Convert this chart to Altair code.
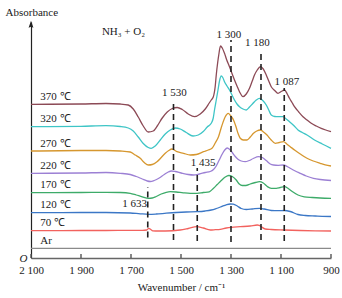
import altair as alt
import pandas as pd

FONT = "Liberation Serif"
TEXT = "#1a1a1a"

series_names = ["370 ℃", "320 ℃", "270 ℃", "220 ℃", "170 ℃", "120 ℃", "70 ℃", "Ar"]
series_colors = ["#8c4a56", "#3ec5c6", "#d6972f", "#9c80d4", "#3dab69", "#3b77c6", "#f2625e", "#8a8a8a"]

wn_370 = [2100, 1900, 1800, 1743, 1711, 1691, 1671, 1651, 1631, 1611, 1595, 1575, 1555, 1535, 1515, 1495,
          1471, 1446, 1423, 1403, 1387, 1379, 1371, 1363, 1359, 1353, 1349, 1342, 1335, 1326, 1317, 1306,
          1296, 1286, 1276, 1266, 1252, 1239, 1226, 1215, 1206, 1195, 1182, 1171, 1159, 1149, 1139, 1125,
          1112, 1099, 1086, 1075, 1066, 1056, 1046, 1029, 1012, 996, 979, 959, 939, 921, 900]
a_370 = [153.7, 154, 154.5, 154, 153, 149, 141, 132, 126, 127, 132, 140, 146, 149.5, 150.5, 148.5,
         144, 141.3, 144, 149, 155, 158, 161, 172, 183, 196, 203, 212, 210, 204.7, 198, 191.3,
         184.5, 178, 172, 166.3, 161.3, 164, 169.7, 177, 183, 188, 191.3, 189, 183, 177, 171.3, 167.5,
         164.7, 166.5, 168, 164, 159.7, 155.5, 151.3, 146, 141.3, 138, 134.7, 132, 129.7, 128, 126.3]

wn_320 = [2100, 1900, 1800, 1743, 1711, 1691, 1671, 1651, 1631, 1619, 1603, 1583, 1563, 1543, 1523, 1503,
          1479, 1452, 1431, 1411, 1395, 1379, 1371, 1366, 1359, 1352, 1346, 1339, 1333, 1326, 1316, 1306,
          1296, 1286, 1276, 1266, 1252, 1239, 1226, 1212, 1199, 1186, 1173, 1159, 1149, 1139, 1125, 1112,
          1092, 1079, 1066, 1049, 1032, 1015, 996, 966, 935, 900]
a_320 = [131.3, 131.7, 132.3, 131.5, 130, 127, 121, 114.5, 110.5, 109.7, 112, 118, 124, 128, 130, 129,
         125.5, 122, 123, 126.5, 131, 134.7, 140, 148, 158, 168, 177, 182, 180.5, 176.3, 172, 168,
         163, 158, 154, 151.3, 149, 148, 151, 154.7, 158, 159.7, 157.5, 153, 148, 143, 141.5, 141.3,
         141.3, 139, 136.3, 132.5, 128, 125.5, 123, 118, 114, 109.7]

wn_270 = [2100, 1900, 1800, 1743, 1703, 1683, 1663, 1647, 1630, 1615, 1596, 1579, 1563, 1549, 1536, 1516,
          1490, 1463, 1439, 1410, 1391, 1376, 1363, 1350, 1337, 1323, 1311, 1302, 1290, 1281, 1272, 1263,
          1251, 1236, 1223, 1210, 1197, 1183, 1170, 1156, 1141, 1123, 1107, 1090, 1077, 1063, 1043, 1023,
          996, 971, 943, 923, 900]
a_270 = [107, 107.5, 107.5, 107, 106, 103, 99.7, 95.5, 93, 93.5, 96.3, 100.5, 104.7, 107.5, 109, 106.3,
         104.7, 103, 103.5, 106.3, 108, 109.7, 115, 121.3, 132, 141.3, 144.7, 142.5, 138, 132, 124.7, 119.7,
         118, 118, 121, 124.7, 127, 128, 126, 123, 118.5, 114.7, 115.5, 116.3, 114, 111.3, 107.5, 104,
         99.7, 97, 94.7, 93.2, 92]

wn_220 = [2100, 1900, 1800, 1743, 1703, 1679, 1655, 1635, 1623, 1607, 1587, 1567, 1551, 1539, 1523, 1499,
          1471, 1450, 1427, 1403, 1383, 1370, 1359, 1347, 1335, 1325, 1315, 1305, 1295, 1283, 1271, 1259,
          1243, 1227, 1211, 1190, 1175, 1159, 1143, 1130, 1111, 1090, 1075, 1063, 1043, 1023, 999, 970,
          943, 900]
a_220 = [84.7, 85, 85.5, 84.7, 83.5, 81.5, 79, 77, 76.5, 77.5, 80, 83.5, 86, 87, 86.5, 85,
         83.5, 83, 84, 85.5, 86.5, 88.5, 92, 98, 104, 108, 110, 108.5, 105.5, 101.5, 98.5, 97,
         96.3, 97.5, 99.5, 101.3, 100.5, 97.5, 94, 93, 92.7, 93, 91.5, 89.7, 87, 84.7, 82, 79.7,
         78.5, 77.5]

wn_170 = [2100, 1900, 1800, 1743, 1703, 1679, 1655, 1630, 1615, 1599, 1579, 1559, 1543, 1519, 1491, 1463,
          1436, 1411, 1387, 1370, 1355, 1339, 1323, 1309, 1295, 1279, 1267, 1255, 1241, 1223, 1203, 1186,
          1171, 1155, 1139, 1119, 1103, 1086, 1071, 1055, 1032, 1007, 975, 943, 900]
a_170 = [65.3, 65.5, 65.7, 65.5, 64.7, 63, 61.2, 59.7, 60, 61.5, 64, 65.7, 66.3, 66, 65.2, 64.7,
         64.7, 65.5, 66.2, 69.7, 73.5, 77.5, 81, 82.5, 81.5, 78, 74, 72.5, 72.5, 74, 75.5, 76.3,
         75, 71.5, 69.7, 69.7, 70.5, 71.3, 69.5, 66.5, 63, 61.2, 60.5, 60, 59.7]

wn_120 = [2100, 1900, 1800, 1703, 1663, 1629, 1599, 1559, 1519, 1479, 1436, 1403, 1379, 1359, 1339, 1319,
          1303, 1291, 1275, 1259, 1239, 1215, 1186, 1167, 1139, 1111, 1086, 1063, 1032, 1003, 963, 935, 900]
a_120 = [45.3, 45.5, 45.5, 45, 44.2, 43.7, 44, 44.8, 45.5, 46, 46.3, 47, 48, 49.5, 51.3, 53.2,
         54, 53.8, 52, 49.5, 48.5, 49, 49.7, 49, 47.5, 47.3, 47.5, 46.5, 43.5, 42.5, 42, 41.7, 41.5]

wn_70 = [2100, 1900, 1800, 1703, 1655, 1637, 1629, 1621, 1613, 1591, 1563, 1503, 1471, 1437, 1411, 1383,
         1363, 1343, 1319, 1299, 1263, 1223, 1195, 1187, 1179, 1163, 1139, 1089, 1023, 963, 900]
a_70 = [27.3, 27.5, 27.5, 27.7, 27.7, 28, 29.7, 28.5, 27.2, 27, 27, 28, 29.5, 31.3, 30, 28,
        28.3, 28.7, 30, 30.7, 31.3, 32, 33, 32.7, 31.3, 29, 28.5, 28, 27.5, 27.2, 27]

wn_ar = [2100, 1500, 900]
a_ar = [9.7, 9.7, 9.7]

all_wn = [wn_370, wn_320, wn_270, wn_220, wn_170, wn_120, wn_70, wn_ar]
all_a = [a_370, a_320, a_270, a_220, a_170, a_120, a_70, a_ar]

# peak markers
peak_wn = [1633, 1530, 1435, 1300, 1180, 1087]
peak_text = ["1 633", "1 530", "1 435", "1 300", "1 180", "1 087"]
peak_top = [71, 158, 90, 218, 208, 170]
peak_bottom = [20.5, 18, 17, 16, 18, 17]
peak_label_wn = [1686, 1527, 1412, 1309, 1195, 1077]
peak_label_a = [53.7, 164.7, 95.3, 223, 214.7, 176.3]

tick_values = [2100, 1900, 1700, 1500, 1300, 1100, 900]

gas_text = "NH₃ + O₂"
gas_wn = [1730]
gas_a = [226.3]

LABEL_WN = 2063
LABEL_GAP = 7.5

lines_df = pd.concat(
    [pd.DataFrame({"wn": w, "a": a, "series": n}) for n, w, a in zip(series_names, all_wn, all_a)],
    ignore_index=True,
)
labels_df = pd.DataFrame({
    "wn": [LABEL_WN] * len(series_names),
    "a": [a[0] + LABEL_GAP for a in all_a],
    "txt": series_names,
})
peaks_df = pd.DataFrame({"wn": peak_wn, "a": peak_bottom, "a2": peak_top})
peak_labels_df = pd.DataFrame({"wn": peak_label_wn, "a": peak_label_a, "txt": peak_text})
ticks_df = pd.DataFrame({"wn": tick_values, "a": [0] * len(tick_values), "a2": [4] * len(tick_values)})
gas_df = pd.DataFrame({"wn": gas_wn, "a": gas_a, "txt": [gas_text]})
arrow_df = pd.DataFrame({"wn": [2100], "a": [232.9]})

x_scale = alt.Scale(domain=[900, 2100], reverse=True, nice=False, zero=False)
y_scale = alt.Scale(domain=[0, 236], nice=False, zero=False)

label_expr = ("datum.value >= 1000 ? floor(datum.value / 1000) + ' ' + "
              "substring(toString(1000 + datum.value % 1000), 1) : toString(datum.value)")

x_axis = alt.Axis(
    values=tick_values, labelExpr=label_expr, ticks=False, tickSize=0, grid=False,
    domainColor="#666666", domainWidth=1.6, labelFont=FONT, labelFontSize=11, labelColor=TEXT,
    labelPadding=6, labelFlush=False, labelOverlap=False,
    title="Wavenumber / cm⁻¹", titleFont=FONT, titleFontSize=11, titleFontWeight="normal",
    titleColor=TEXT, titleY=29, titleBaseline="middle",
)
y_axis = alt.Axis(
    values=[0], labelExpr="'O'", ticks=False, tickSize=0, grid=False,
    domainColor="#222222", domainWidth=1.2, labelFont=FONT, labelFontSize=11, labelFontStyle="italic",
    labelColor=TEXT, labelPadding=4, labelFlush=False,
    title="Absorbance", titleAngle=0, titleAlign="left", titleBaseline="middle",
    titleX=-26, titleY=-10, titleFont=FONT, titleFontSize=11, titleFontWeight="normal", titleColor=TEXT,
)

X = alt.X("wn:Q", scale=x_scale, axis=x_axis)
Y = alt.Y("a:Q", scale=y_scale, axis=y_axis)

lines = alt.Chart(lines_df).mark_line(strokeWidth=1.3, interpolate="monotone").encode(
    x=X, y=Y,
    color=alt.Color("series:N", scale=alt.Scale(domain=series_names, range=series_colors), legend=None),
    detail="series:N",
)

ticks = alt.Chart(ticks_df).mark_rule(color="#555555", strokeWidth=1.4).encode(
    x=X, y=Y, y2="a2:Q"
)

peaks = alt.Chart(peaks_df).mark_rule(color="#222222", strokeWidth=1.6, strokeDash=[6, 4]).encode(
    x=X, y=Y, y2="a2:Q"
)

peak_labels = alt.Chart(peak_labels_df).mark_text(
    font=FONT, fontSize=11, color=TEXT, align="center", baseline="middle"
).encode(x=X, y=Y, text="txt:N")

series_labels = alt.Chart(labels_df).mark_text(
    font=FONT, fontSize=11, color=TEXT, align="left", baseline="middle"
).encode(x=X, y=Y, text="txt:N")

gas = alt.Chart(gas_df).mark_text(
    font=FONT, fontSize=11, color=TEXT, align="center", baseline="middle"
).encode(x=X, y=Y, text="txt:N")

arrow = alt.Chart(arrow_df).mark_point(
    shape="M0,-1L0.55,0.6L0,0.35L-0.55,0.6Z", filled=True, size=77, color="#222222", opacity=1
).encode(x=X, y=Y)

chart = alt.layer(lines, ticks, peaks, peak_labels, series_labels, gas, arrow).properties(
    width=300, height=236,
    autosize=alt.AutoSizeParams(type="none"),
    padding={"left": 31, "top": 22, "right": 11, "bottom": 40},
    background="white",
).configure_view(stroke=None)

chart.save("out.html", embed_options={"renderer": "svg", "actions": False})
